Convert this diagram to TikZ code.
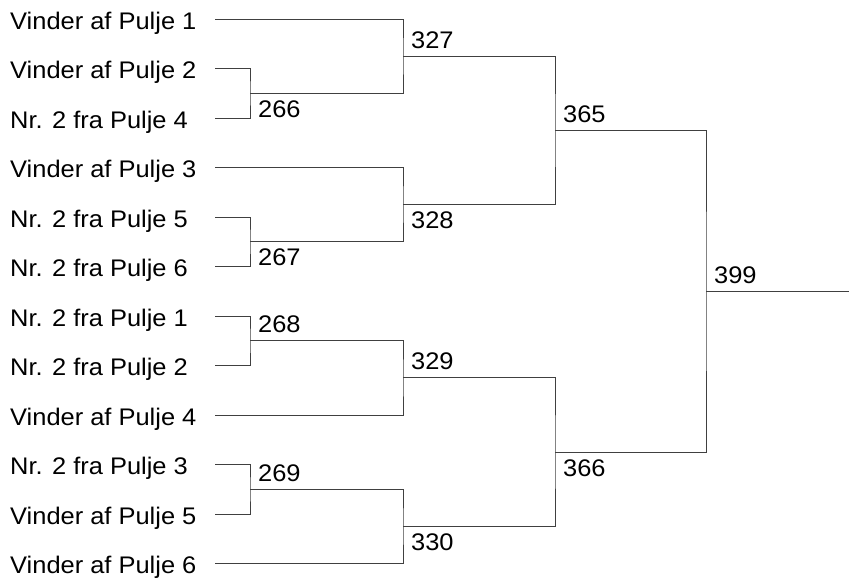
\documentclass[tikz,border=0pt]{standalone}
\usepackage{fontspec}
\setmainfont[FakeStretch=1.06]{Liberation Sans}
\tikzset{
  team/.style={anchor=base west,inner sep=0pt},
  numabove/.style={anchor=base west,inner sep=0pt,xshift=8pt,yshift=8pt},
  numbelow/.style={anchor=north west,inner sep=0pt,xshift=8pt,yshift=-7pt},
  bracket/.style={draw=black!75,line width=1pt}
}
\begin{document}
\begin{tikzpicture}[x=1pt,y=-1pt,font=\fontsize{24}{29}\selectfont]
\useasboundingbox (0,0) rectangle (849,582);
% teams
\node[team] (p1) at (10,29) {Vinder af Pulje 1};
\node[team] (p2) at (10,78.5) {Vinder af Pulje 2};
\node[team] (p3) at (10,128) {Nr. 2 fra Pulje 4};
\node[team] (p4) at (10,177.5) {Vinder af Pulje 3};
\node[team] (p5) at (10,227) {Nr. 2 fra Pulje 5};
\node[team] (p6) at (10,276.5) {Nr. 2 fra Pulje 6};
\node[team] (p7) at (10,326) {Nr. 2 fra Pulje 1};
\node[team] (p8) at (10,375.5) {Nr. 2 fra Pulje 2};
\node[team] (p9) at (10,425) {Vinder af Pulje 4};
\node[team] (p10) at (10,474.5) {Nr. 2 fra Pulje 3};
\node[team] (p11) at (10,524) {Vinder af Pulje 5};
\node[team] (p12) at (10,573.5) {Vinder af Pulje 6};
\coordinate (t1) at (215,19);
\coordinate (t2) at (215,68.5);
\coordinate (t3) at (215,118);
\coordinate (t4) at (215,167.5);
\coordinate (t5) at (215,217);
\coordinate (t6) at (215,266.5);
\coordinate (t7) at (215,316);
\coordinate (t8) at (215,365.5);
\coordinate (t9) at (215,415);
\coordinate (t10) at (215,464.5);
\coordinate (t11) at (215,514);
\coordinate (t12) at (215,563.5);
% matches
\coordinate (m266) at (250,93.25);
\coordinate (m267) at (250,241.75);
\coordinate (m268) at (250,340.75);
\coordinate (m269) at (250,489.25);
\coordinate (m327) at (403,56.1);
\coordinate (m328) at (403,204.6);
\coordinate (m329) at (403,377.9);
\coordinate (m330) at (403,526.4);
\coordinate (m365) at (555,130.4);
\coordinate (m366) at (555,452.1);
\coordinate (m399) at (706,291.2);
\coordinate (final) at (849,291.2);
\draw[bracket] (t2) -| (m266) |- (t3);
\draw[bracket] (t5) -| (m267) |- (t6);
\draw[bracket] (t7) -| (m268) |- (t8);
\draw[bracket] (t10) -| (m269) |- (t11);
\draw[bracket] (t1) -| (m327) |- (m266);
\draw[bracket] (t4) -| (m328) |- (m267);
\draw[bracket] (m268) -| (m329) |- (t9);
\draw[bracket] (m269) -| (m330) |- (t12);
\draw[bracket] (m327) -| (m365) |- (m328);
\draw[bracket] (m329) -| (m366) |- (m330);
\draw[bracket] (m365) -| (m399) |- (m366);
\draw[bracket] (m399) -- (final);
% match numbers
\node[numbelow] (n266) at (m266) {266};
\node[numbelow] (n267) at (m267) {267};
\node[numabove] (n268) at (m268) {268};
\node[numabove] (n269) at (m269) {269};
\node[numabove] (n327) at (m327) {327};
\node[numbelow] (n328) at (m328) {328};
\node[numabove] (n329) at (m329) {329};
\node[numbelow] (n330) at (m330) {330};
\node[numabove] (n365) at (m365) {365};
\node[numbelow] (n366) at (m366) {366};
\node[numabove] (n399) at (m399) {399};
\end{tikzpicture}
\end{document}
